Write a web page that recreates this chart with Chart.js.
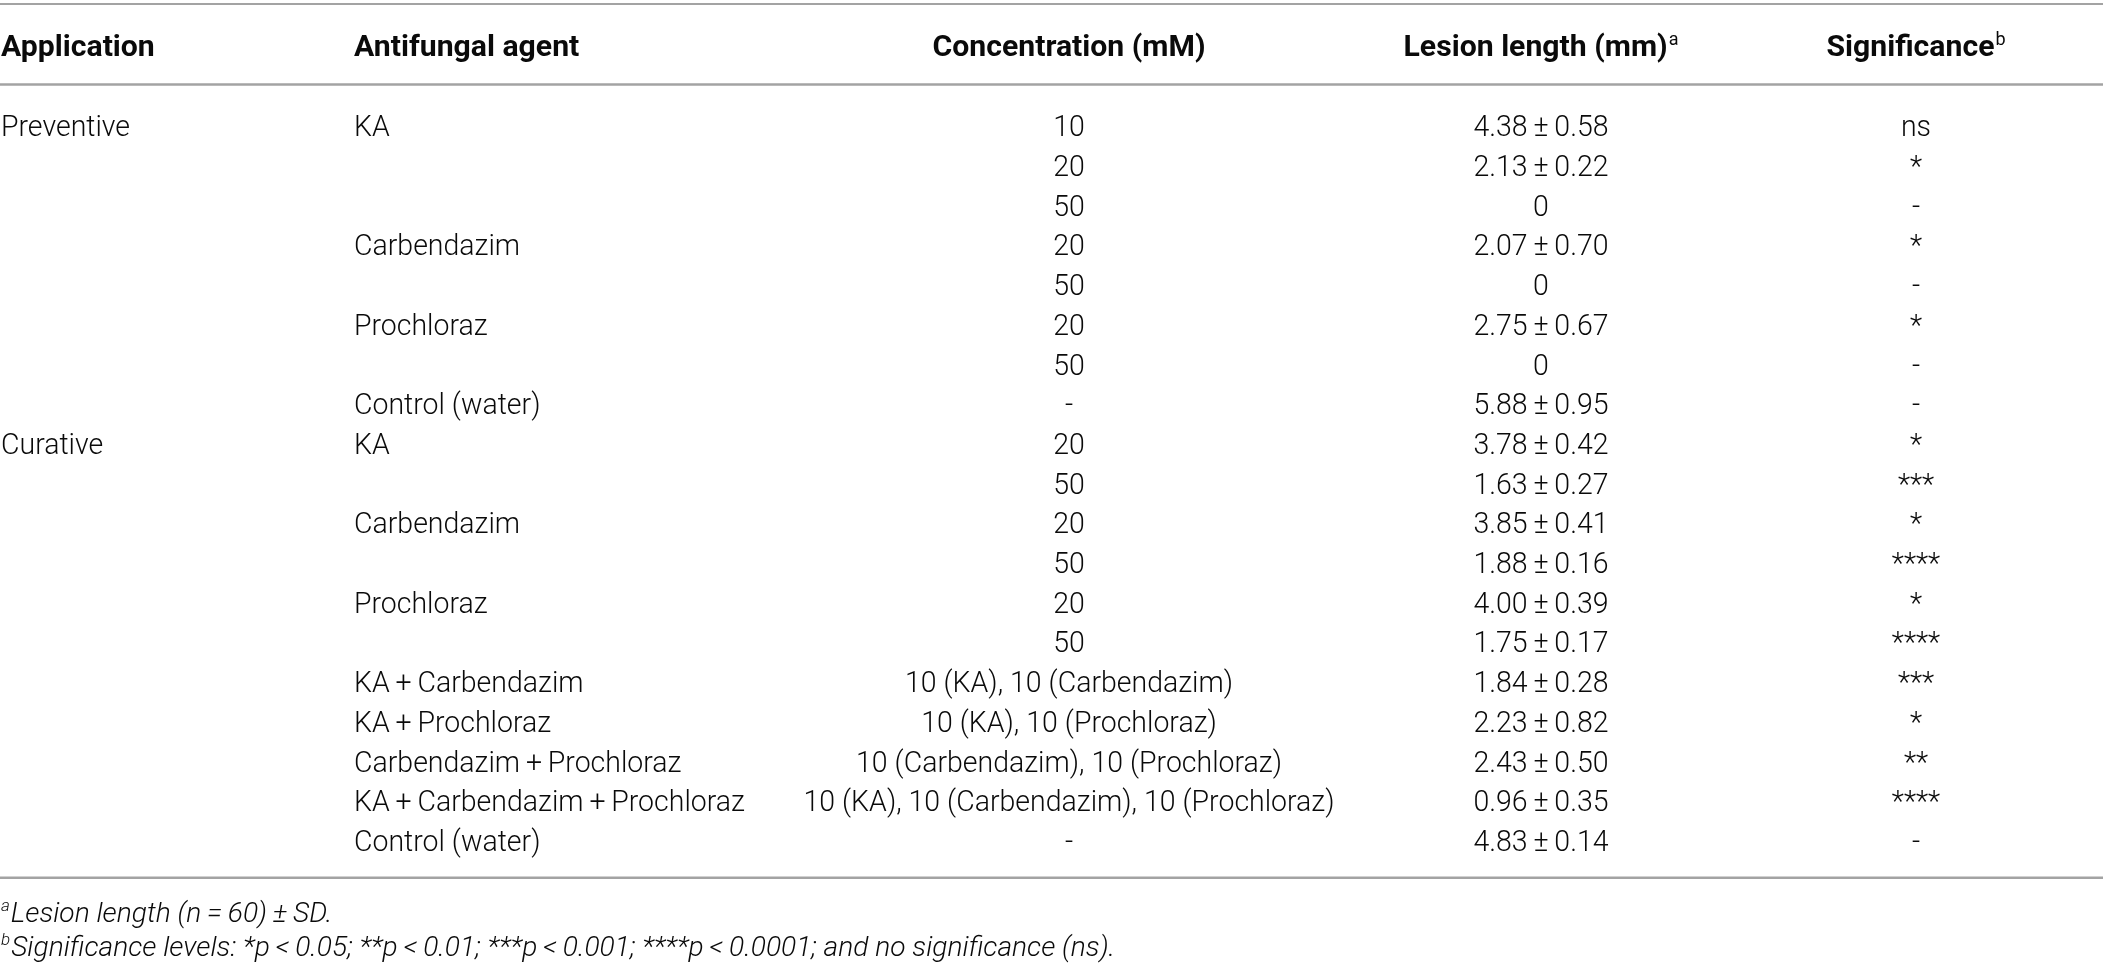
<!DOCTYPE html>
<html>
<head>
<meta charset="utf-8">
<title>Lesion length table</title>
<script src="https://cdn.jsdelivr.net/npm/chart.js"></script>
<style>
  html, body { margin: 0; padding: 0; background: #fff; }
  #wrap { width: 2103px; height: 973px; }
</style>
</head>
<body>
<div id="wrap"><canvas id="tableChart" width="2103" height="973"></canvas></div>
<script>
// table data
const headers = ["Application", "Antifungal agent", "Concentration (mM)", "Lesion length (mm)", "Significance"];
const headerNotes = ["", "", "", "a", "b"];

const applications = ["Preventive", "", "", "", "", "", "", "", "Curative", "", "", "", "", "", "", "", "", "", ""];
const agents = [
  "KA", "", "", "Carbendazim", "", "Prochloraz", "", "Control (water)",
  "KA", "", "Carbendazim", "", "Prochloraz", "",
  "KA\u2009+\u2009Carbendazim", "KA\u2009+\u2009Prochloraz", "Carbendazim\u2009+\u2009Prochloraz",
  "KA\u2009+\u2009Carbendazim\u2009+\u2009Prochloraz", "Control (water)"
];
const concentrations = [
  "10", "20", "50", "20", "50", "20", "50", "-",
  "20", "50", "20", "50", "20", "50",
  "10 (KA), 10 (Carbendazim)", "10 (KA), 10 (Prochloraz)", "10 (Carbendazim), 10 (Prochloraz)",
  "10 (KA), 10 (Carbendazim), 10 (Prochloraz)", "-"
];
const lesionMean = [4.38, 2.13, 0, 2.07, 0, 2.75, 0, 5.88, 3.78, 1.63, 3.85, 1.88, 4.00, 1.75, 1.84, 2.23, 2.43, 0.96, 4.83];
const lesionSD = [0.58, 0.22, null, 0.70, null, 0.67, null, 0.95, 0.42, 0.27, 0.41, 0.16, 0.39, 0.17, 0.28, 0.82, 0.50, 0.35, 0.14];
const significance = ["ns", "*", "-", "*", "-", "*", "-", "-", "*", "***", "*", "****", "*", "****", "***", "*", "**", "****", "-"];

const footnotes = [
  ["a", "Lesion length (n\u2009=\u200960)\u2009±\u2009SD."],
  ["b", "Significance levels: *p\u2009<\u20090.05; **p\u2009<\u20090.01; ***p\u2009<\u20090.001; ****p\u2009<\u20090.0001; and no significance (ns)."]
];

const rowKeys = lesionMean.map((_, i) => "r" + i);

// column anchors (x scale units) and alignment
const columns = [
  { x: 1, align: "left" },
  { x: 354, align: "left" },
  { x: 1069, align: "center" },
  { x: 1541, align: "center" },
  { x: 1916, align: "center" },
];

const bodyFont = '300 29px Roboto, "Liberation Sans", sans-serif';
const headFont = '700 30px Roboto, "Liberation Sans", sans-serif';
const supFont = '400 18px Roboto, "Liberation Sans", sans-serif';
const noteFont = 'italic 300 28px Roboto, "Liberation Sans", sans-serif';
const noteSupFont = 'italic 300 17px Roboto, "Liberation Sans", sans-serif';
const ink = "#0a0a0a";
const ruleColor = "#a3a3a3";

// widths of a few strings in the original, used to set the narrow face
const bodyFitWidth = 531;   // widest concentration text
const headFitWidth = 273;   // "Concentration (mM)"
const noteFitWidth = 1104;  // footnote b

function lesionText(i) {
  if (lesionSD[i] === null) return String(lesionMean[i]);
  return lesionMean[i].toFixed(2) + "\u2009±\u2009" + lesionSD[i].toFixed(2);
}

function hLine(ctx, x0, x1, yy, w) {
  ctx.beginPath();
  ctx.strokeStyle = ruleColor;
  ctx.lineWidth = w;
  ctx.moveTo(x0, yy);
  ctx.lineTo(x1, yy);
  ctx.stroke();
}

function fitScale(ctx, font, sample, target) {
  ctx.font = font;
  return target / ctx.measureText(sample).width;
}

// condensed text, like the narrow face of the original
function squeezedText(ctx, txt, px, py, align, sx) {
  ctx.save();
  ctx.translate(px, py);
  ctx.scale(sx, 1);
  ctx.textAlign = align;
  ctx.fillText(txt, 0, 0);
  ctx.restore();
}

const tablePlugin = {
  id: "tableText",
  afterDraw(chart) {
    const ctx = chart.ctx;
    const xs = chart.scales.x;
    const ys = chart.scales.y;
    const area = chart.chartArea;
    const left = xs.getPixelForValue(0);
    const right = xs.getPixelForValue(2103);

    ctx.save();

    const widest = concentrations.reduce((a, b) => (b.length > a.length ? b : a));
    const bodySx = fitScale(ctx, bodyFont, widest, bodyFitWidth);
    const headSx = fitScale(ctx, headFont, headers[2], headFitWidth);
    const noteSx = fitScale(ctx, noteFont, footnotes[1][1], noteFitWidth);

    // rules
    hLine(ctx, left, right, area.top - 102.5, 2);
    hLine(ctx, left, right, area.top - 22, 2.5);
    hLine(ctx, left, right, area.bottom + 17, 2.5);

    ctx.fillStyle = ink;
    ctx.textBaseline = "alphabetic";

    // header row
    const headBase = area.top - 50;
    headers.forEach((h, c) => {
      const col = columns[c];
      const px = xs.getPixelForValue(col.x);
      ctx.font = headFont;
      const w = ctx.measureText(h).width * headSx;
      ctx.font = supFont;
      const sw = headerNotes[c] ? ctx.measureText(headerNotes[c]).width + 1 : 0;
      const start = col.align === "center" ? px - (w + sw) / 2 : px;
      ctx.font = headFont;
      squeezedText(ctx, h, start, headBase, "left", headSx);
      if (headerNotes[c]) {
        ctx.font = supFont;
        ctx.textAlign = "left";
        ctx.fillText(headerNotes[c], start + w + 1, headBase - 11);
      }
    });

    // body rows
    ctx.font = bodyFont;
    const cols = [applications, agents, concentrations, null, significance];
    rowKeys.forEach((_, i) => {
      const base = ys.getPixelForValue(i) + 10;
      cols.forEach((arr, c) => {
        const txt = c === 3 ? lesionText(i) : arr[i];
        if (!txt) return;
        squeezedText(ctx, txt, xs.getPixelForValue(columns[c].x), base, columns[c].align, bodySx);
      });
    });

    // footnotes
    footnotes.forEach(([mark, text], k) => {
      const base = area.bottom + 61 + k * 34;
      ctx.font = noteSupFont;
      ctx.textAlign = "left";
      ctx.fillText(mark, left + 1, base - 11);
      const mw = ctx.measureText(mark).width;
      ctx.font = noteFont;
      squeezedText(ctx, text, left + 2 + mw, base, "left", noteSx);
    });

    ctx.restore();
  }
};

new Chart(document.getElementById("tableChart"), {
  type: "scatter",
  data: { labels: rowKeys, datasets: [] },
  options: {
    responsive: false,
    animation: false,
    layout: { padding: { top: 106.45, bottom: 112.25, left: 0, right: 0 } },
    plugins: { legend: { display: false }, tooltip: { enabled: false } },
    scales: {
      x: { type: "linear", min: 0, max: 2103, display: false },
      y: { type: "category", labels: rowKeys, offset: true, display: false }
    }
  },
  plugins: [tablePlugin]
});
</script>
</body>
</html>
